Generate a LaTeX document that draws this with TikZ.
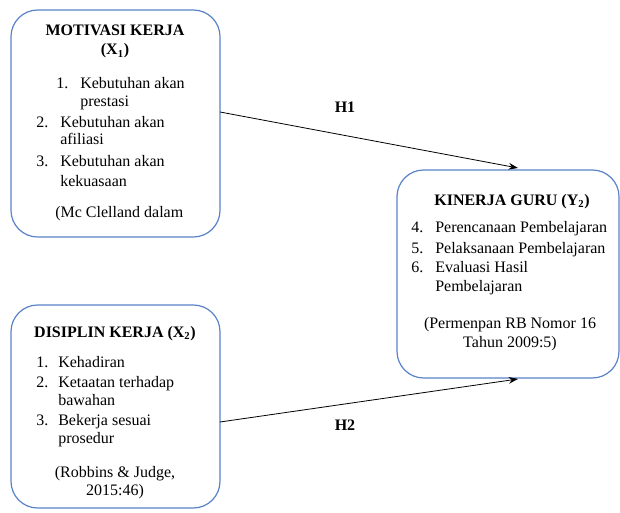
\documentclass[tikz,border=0pt]{standalone}
\usepackage{fontspec}
\setmainfont{Liberation Serif}
\usetikzlibrary{arrows.meta}
\definecolor{boxblue}{RGB}{90,130,200}
\begin{document}
\begin{tikzpicture}[x=0.75pt,y=-0.75pt,
  box/.style={draw=boxblue, line width=0.9pt, rounded corners=20pt, inner sep=0pt},
  txt/.style={font=\fontsize{12}{14}\selectfont, inner sep=0pt, anchor=base west},
  ctxt/.style={font=\fontsize{12}{14}\selectfont, inner sep=0pt, anchor=base},
  hyp/.style={font=\fontsize{12}{14}\selectfont\bfseries, inner sep=0pt},
  conn/.style={-{Stealth[length=7pt,width=5pt]}, line width=0.6pt, black}]
\useasboundingbox (0,0) rectangle (620,513);
% boxes
\node[box, minimum width=156.75pt, minimum height=170.25pt] (b1) at (115.5,123.5) {};
\node[box, minimum width=156.75pt, minimum height=152.25pt] (b2) at (115.5,406.5) {};
\node[box, minimum width=166.5pt, minimum height=156pt] (b3) at (508,274) {};
% box 1 text
\node[ctxt, font=\fontsize{12}{14}\selectfont\bfseries] (t1a) at (115,36) {MOTIVASI KERJA};
\node[ctxt, font=\fontsize{12}{14}\selectfont\bfseries] (t1b) at (115,55) {(X\textsubscript{1})};
\node[txt] (n11) at (56,89) {1.};
\node[txt] (l11) at (80,89) {Kebutuhan akan};
\node[txt] (l12) at (80,107) {prestasi};
\node[txt] (n12) at (36,128) {2.};
\node[txt] (l13) at (60,128) {Kebutuhan akan};
\node[txt] (l14) at (60,145) {afiliasi};
\node[txt] (n13) at (36,167) {3.};
\node[txt] (l15) at (60,167) {Kebutuhan akan};
\node[txt] (l16) at (60,187) {kekuasaan};
\node[txt] (r1) at (55,218) {(Mc Clelland dalam};
% box 2 text
\node[ctxt, font=\fontsize{12}{14}\selectfont\bfseries] (t2) at (115,337) {DISIPLIN KERJA (X\textsubscript{2})};
\node[txt] (n21) at (36,367) {1.};
\node[txt] (l21) at (58,367) {Kehadiran};
\node[txt] (n22) at (36,387) {2.};
\node[txt] (l22) at (58,387) {Ketaatan terhadap};
\node[txt] (l23) at (58,405) {bawahan};
\node[txt] (n23) at (36,425) {3.};
\node[txt] (l24) at (58,425) {Bekerja sesuai};
\node[txt] (l25) at (58,443) {prosedur};
\node[ctxt] (r2a) at (115,477) {(Robbins \& Judge,};
\node[ctxt] (r2b) at (115,495) {2015:46)};
% box 3 text
\node[ctxt, font=\fontsize{12}{14}\selectfont\bfseries] (t3) at (512,205) {KINERJA GURU (Y\textsubscript{2})};
\node[txt] (n31) at (411,233) {4.};
\node[txt] (l31) at (435,233) {Perencanaan Pembelajaran};
\node[txt] (n32) at (411,253) {5.};
\node[txt] (l32) at (435,253) {Pelaksanaan Pembelajaran};
\node[txt] (n33) at (411,272) {6.};
\node[txt] (l33) at (435,272) {Evaluasi Hasil};
\node[txt] (l34) at (435,291) {Pembelajaran};
\node[ctxt] (r3a) at (510,328) {(Permenpan RB Nomor 16};
\node[ctxt] (r3b) at (510,347) {Tahun 2009:5)};
% connectors
\coordinate (h1s) at (220,112);
\coordinate (h1e) at (518,168);
\coordinate (h2s) at (220,422);
\coordinate (h2e) at (518,379);
\draw[conn] (h1s) -- (h1e);
\draw[conn] (h2s) -- (h2e);
\node[hyp] (H1) at (345,107) {H1};
\node[hyp] (H2) at (345,425) {H2};
\end{tikzpicture}
\end{document}
